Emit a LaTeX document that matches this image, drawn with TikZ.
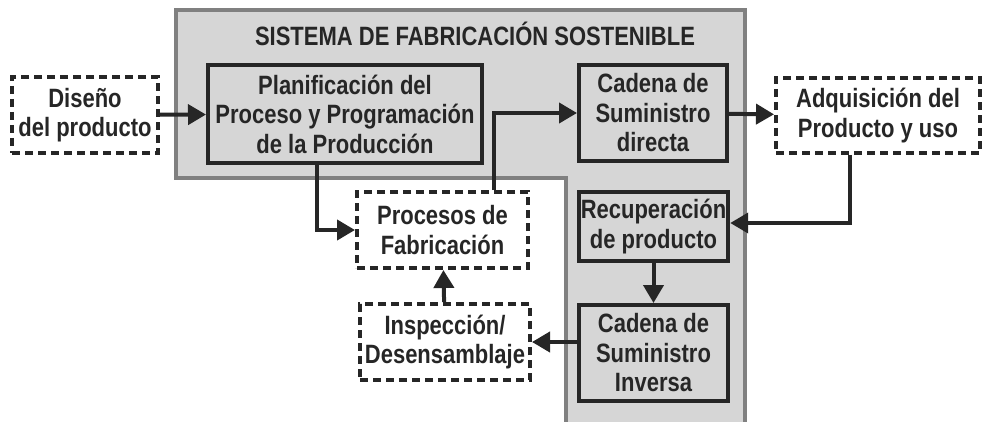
\documentclass[tikz,border=0pt]{standalone}
\usepackage{fontspec}
\setmainfont{Liberation Sans}[FakeStretch=0.83]
\usetikzlibrary{arrows.meta, positioning}

\definecolor{zonegray}{HTML}{D6D6D6}
\definecolor{zoneline}{HTML}{808080}
\definecolor{inkgray}{HTML}{262626}

\begin{document}
\begin{tikzpicture}[
                x = 1pt, y = -1pt, % pixel like units, y downwards
                > = {Triangle[length=18pt, width=20pt]}, % arrow head style
                line width = 4pt, % line style
                inkgray
            ]

            \tikzstyle{every node}=[align = center, inner sep = 2pt,
            font = \fontsize{26.5}{29.5}\selectfont\bfseries, text = inkgray]
            \tikzstyle{stage}=[draw = inkgray, fill = zonegray]
            \tikzstyle{outside}=[draw = inkgray, fill = white,
            dash pattern = on 8pt off 5pt]
            \tikzstyle{link}=[->, draw = inkgray]

            \useasboundingbox (0,0) rectangle (984,422);
            \clip (0,0) rectangle (984,422);

            % sustainable manufacturing zone
            \draw[zoneline, fill = zonegray] (176,10) -- (745,10) -- (745,440)
                -- (566,440) -- (566,178) -- (176,178) -- cycle;
            \node (title) at (475,34) {SISTEMA DE FABRICACIÓN SOSTENIBLE};

            \node (dis) [outside, minimum width = 146pt, minimum height = 76pt]
                at (85,115) {Diseño\\del producto};
            \node (plan) [stage, minimum width = 274pt, minimum height = 98pt]
                at (345,114) {Planificación del\\Proceso y Programación\\de la Producción};
            \node (cad) [stage, minimum width = 148pt, minimum height = 96pt]
                at (653,113) {Cadena de\\Suministro\\directa};
            \node (adq) [outside, minimum width = 204pt, minimum height = 75pt]
                at (878,115.5) {Adquisición del\\Producto y uso};
            \node (proc) [outside, minimum width = 171pt, minimum height = 76pt]
                at (442.5,230) {Procesos de\\Fabricación};
            \node (insp) [outside, minimum width = 170pt, minimum height = 76pt]
                at (445,342) {Inspección/\\Desensamblaje};
            \node (rec) [stage, minimum width = 149pt, minimum height = 69pt]
                at (653.5,226.5) {Recuperación\\de producto};
            \node (inv) [stage, minimum width = 149pt, minimum height = 96pt]
                at (653.5,353) {Cadena de\\Suministro\\Inversa};

            \path[link] (dis) edge (plan);
            \draw[link] ([xshift=-28pt]plan.south) |- (proc.west);
            \draw[link] ([xshift=51.5pt]proc.north) |- (cad.west);
            \path[link] (cad) edge (adq);
            \draw[link] ([xshift=-28pt]adq.south) |- ([yshift=3.5pt]rec.east);
            \path[link] (rec) edge (inv);
            \draw[link] (inv.west |- insp.east) -- (insp.east);
            \path[link] (insp) edge (proc);

        \end{tikzpicture}
\end{document}
